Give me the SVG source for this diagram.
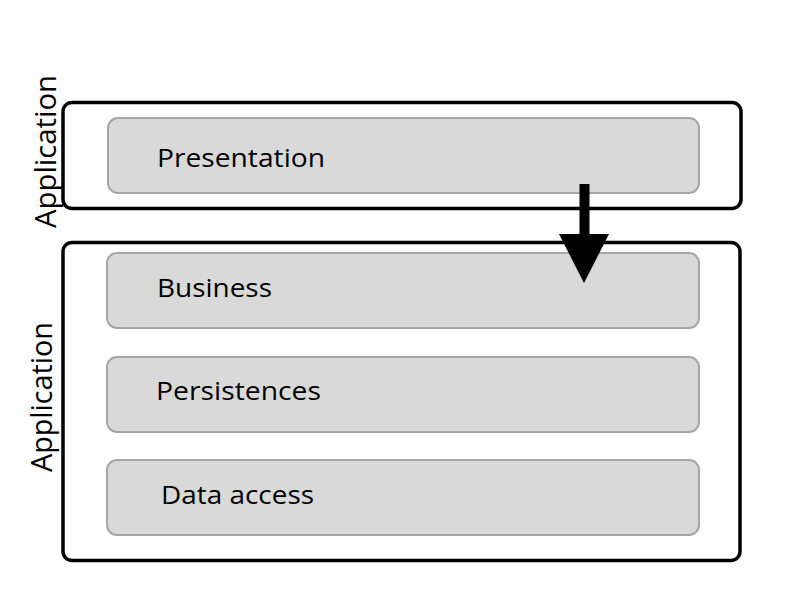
<svg xmlns="http://www.w3.org/2000/svg" width="800" height="600" viewBox="0 0 800 600">
<style>
.outer{fill:none;stroke:#000;stroke-width:3.5}
.layer{fill:#d9d9d9;stroke:#a6a6a6;stroke-width:2}
.lbl{font-family:"Open Sans","Noto Sans",sans-serif;font-size:26px;fill:#000}
.side{font-size:29px}
</style>
<rect width="800" height="600" fill="#fff"/>
<g id="app-top">
<rect class="outer" x="63" y="102.5" width="678" height="106" rx="9"/>
<text class="lbl side" transform="translate(56,228) rotate(-90)" textLength="153" lengthAdjust="spacingAndGlyphs">Application</text>
</g>
<g id="app-bottom">
<rect class="outer" x="63" y="242.5" width="677" height="318" rx="9"/>
<text class="lbl side" transform="translate(52,472) rotate(-90)" textLength="150" lengthAdjust="spacingAndGlyphs">Application</text>
</g>
<g id="presentation">
<rect class="layer" x="108" y="118" width="591" height="75" rx="10"/>
<text class="lbl" x="157" y="167" textLength="168" lengthAdjust="spacingAndGlyphs">Presentation</text>
</g>
<g id="business">
<rect class="layer" x="107" y="253" width="592" height="75" rx="10"/>
<text class="lbl" x="157" y="297" textLength="115" lengthAdjust="spacingAndGlyphs">Business</text>
</g>
<g id="persistences">
<rect class="layer" x="107" y="357" width="592" height="75" rx="10"/>
<text class="lbl" x="156" y="400" textLength="165" lengthAdjust="spacingAndGlyphs">Persistences</text>
</g>
<g id="data-access">
<rect class="layer" x="107" y="460" width="592" height="75" rx="10"/>
<text class="lbl" x="161" y="504" textLength="153" lengthAdjust="spacingAndGlyphs">Data access</text>
</g>
<g id="connectors">
<rect x="579.5" y="184" width="10" height="51" fill="#000"/>
<polygon points="559,234 609,234 584,283" fill="#000"/>
</g>
</svg>
